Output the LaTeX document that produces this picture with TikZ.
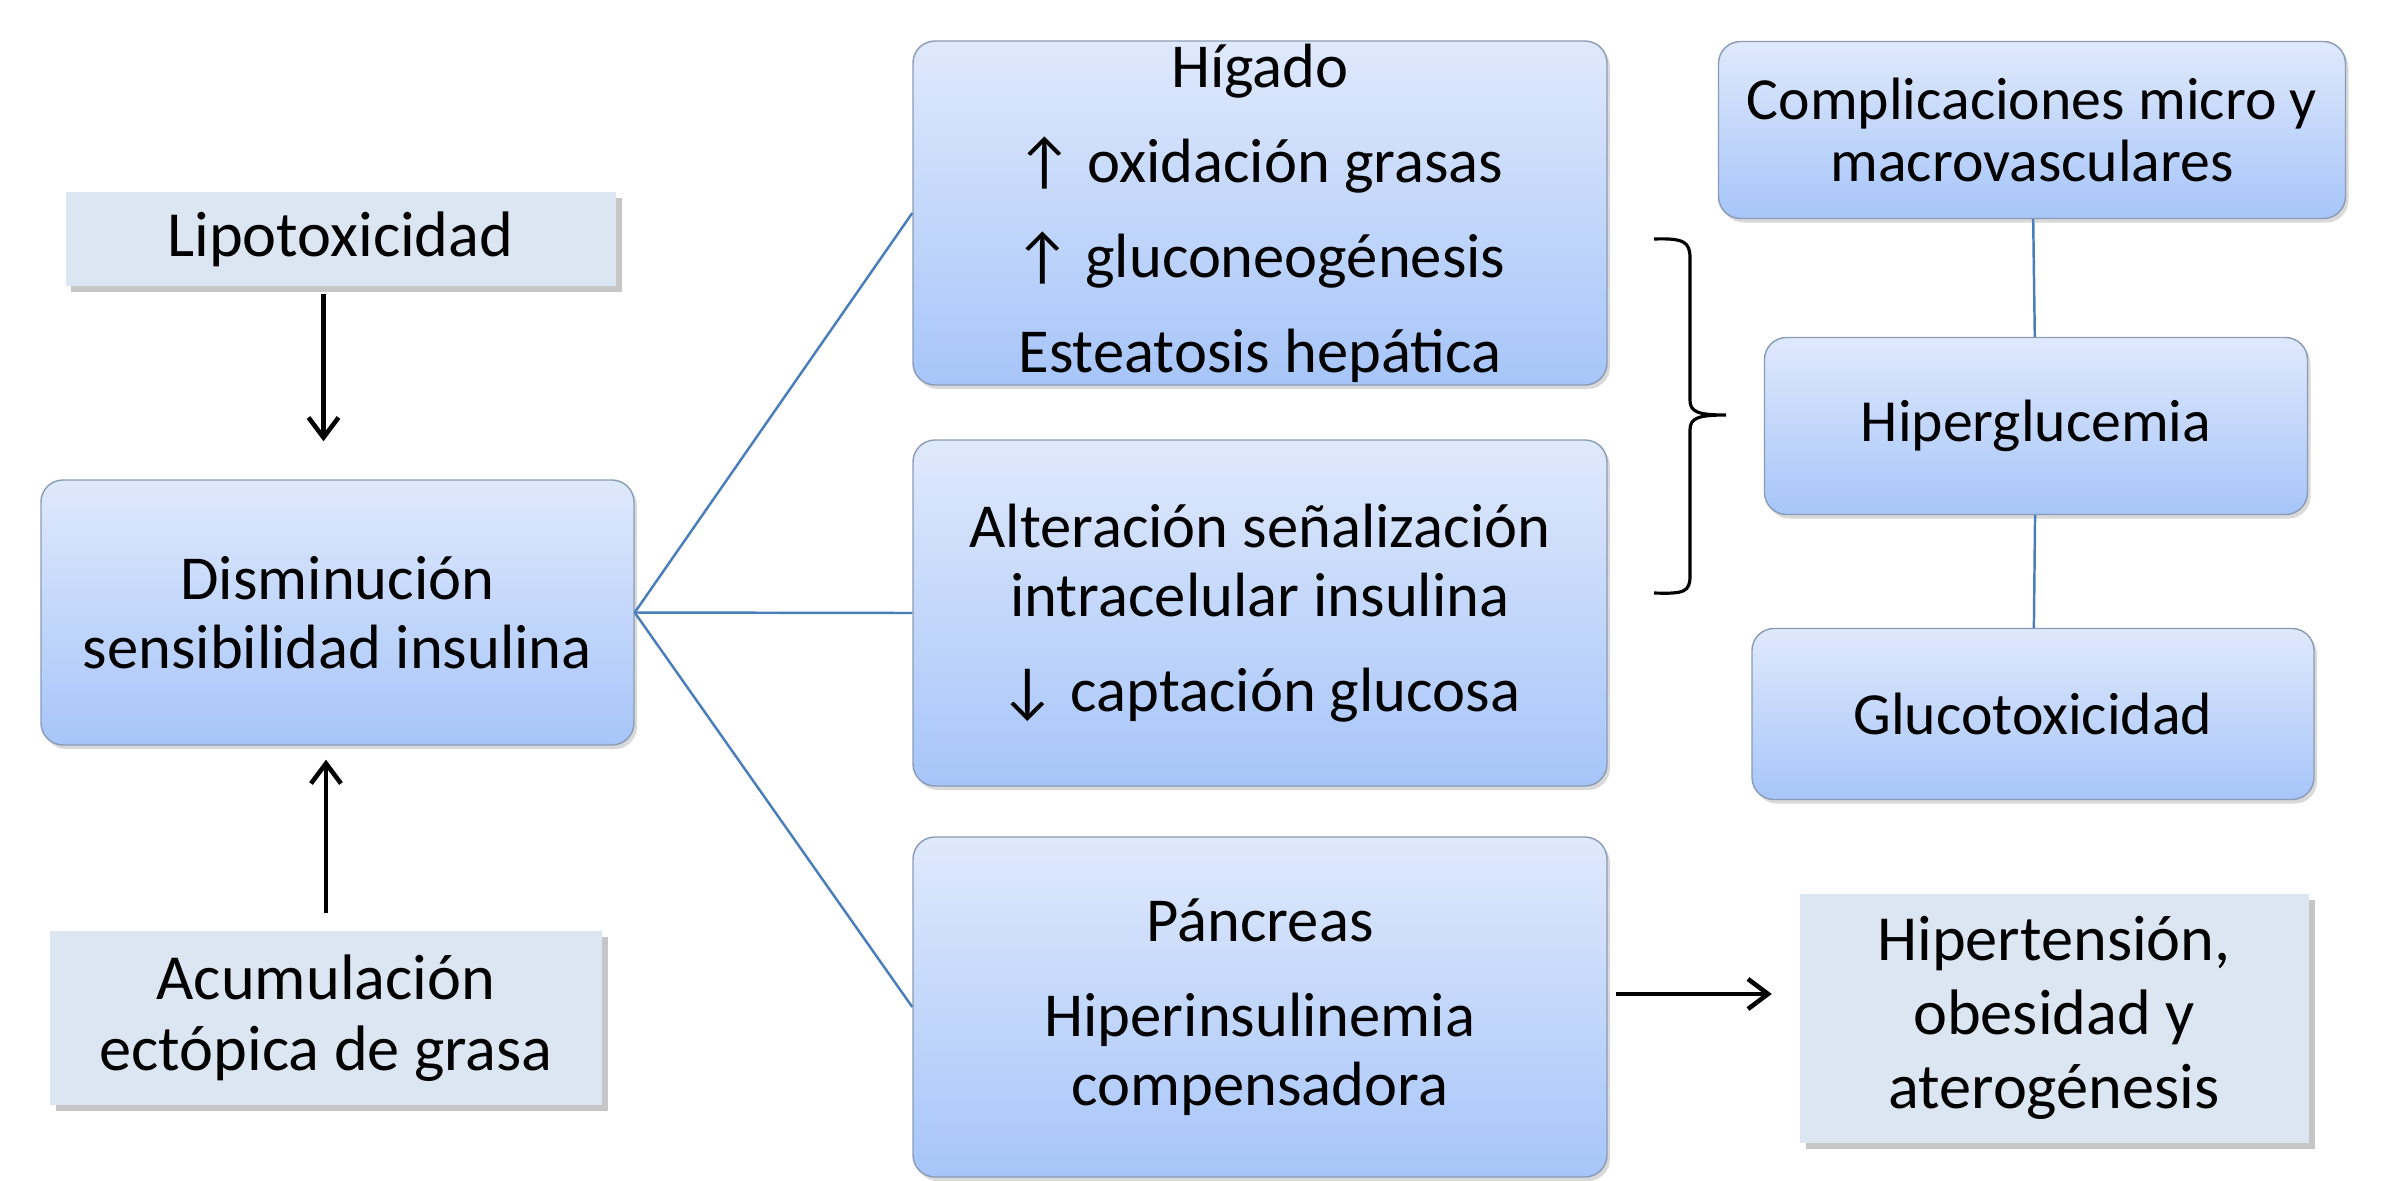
\documentclass[tikz,border=0pt]{standalone}
\usepackage{fontspec}
\setmainfont{Carlito}
\usepackage{tikz}
\usetikzlibrary{arrows.meta,shadows}

\definecolor{plainfill}{HTML}{DCE6F2}
\definecolor{gradtop}{HTML}{DFE9FC}
\definecolor{gradbottom}{HTML}{A7C5F9}
\definecolor{boxline}{HTML}{8A9BB5}
\definecolor{linkblue}{HTML}{4A7EBB}

\begin{document}
\begin{tikzpicture}[
  plain/.style={rectangle, fill=plainfill, inner sep=0pt, align=center, font=\fontsize{18.3}{21}\selectfont, drop shadow={shadow xshift=0.06cm, shadow yshift=-0.06cm, opacity=0.45, fill=gray}},
  card/.style={rectangle, rounded corners=0.22cm, draw=boxline, line width=0.4pt, top color=gradtop, bottom color=gradbottom, inner sep=0pt, align=center, font=\fontsize{17.8}{19.5}\selectfont, drop shadow={shadow xshift=0.03cm, shadow yshift=-0.04cm, opacity=0.3, fill=gray}},
  small/.style={font=\fontsize{17}{19.5}\selectfont},
  arrow/.style={-{Straight Barb[length=2mm,width=3mm]}, line width=1.3pt},
  link/.style={draw=linkblue, line width=0.7pt}
]
\useasboundingbox (0,0) rectangle (23.89,-11.80);

\node[plain, minimum width=5.5cm, minimum height=0.94cm] (lipo) at (3.405,-2.39) {Lipotoxicidad};
\node[card, minimum width=5.93cm, minimum height=2.65cm] (dism) at (3.375,-6.125) {Disminución\\ sensibilidad insulina};
\node[plain, minimum width=5.52cm, minimum height=1.74cm, font=\fontsize{18.3}{20.3}\selectfont] (acum) at (3.26,-10.18) {Acumulación\\ ectópica de grasa};

\node[card, minimum width=6.94cm, minimum height=3.44cm] (higado) at (12.60,-2.13) {Hígado\\[7.5pt] ↑ oxidación grasas\\[7.5pt] ↑ gluconeogénesis\\[7.5pt] Esteatosis hepática};
\node[card, minimum width=6.94cm, minimum height=3.46cm] (alter) at (12.60,-6.13) {Alteración señalización\\ intracelular insulina\\[7.5pt] ↓ captación glucosa};
\node[card, minimum width=6.94cm, minimum height=3.40cm] (panc) at (12.60,-10.07) {Páncreas\\[7.5pt] Hiperinsulinemia\\ compensadora};

\node[plain, minimum width=5.09cm, minimum height=2.49cm] (hipert) at (20.54,-10.18) {Hipertensión,\\ obesidad y\\ aterogénesis};
\node[card, small, minimum width=6.27cm, minimum height=1.77cm, font=\fontsize{17}{17.5}\selectfont] (compl) at (20.32,-1.30) {Complicaciones micro y\\ macrovasculares};
\node[card, small, minimum width=5.43cm, minimum height=1.77cm] (hiperg) at (20.36,-4.26) {Hiperglucemia};
\node[card, small, minimum width=5.62cm, minimum height=1.71cm] (gluco) at (20.33,-7.14) {Glucotoxicidad};

\draw[arrow, shorten <=0.07cm, shorten >=0.38cm] ([xshift=-0.17cm]lipo.south) -- ([xshift=-0.17cm]lipo.south |- dism.north);
\draw[arrow, shorten <=0.17cm, shorten >=0.14cm] (acum.north) -- (acum.north |- dism.south);
\draw[arrow, shorten <=0.08cm, shorten >=0.27cm] ([yshift=0.13cm]panc.east) -- ([yshift=0.13cm]panc.east -| hipert.west);

\draw[link] (dism.east) -- (higado.west);
\draw[link] (dism.east) -- (alter.west);
\draw[link] (dism.east) -- (panc.west);
\draw[link] (compl) -- (hiperg);
\draw[link] (hiperg) -- (gluco);

% brace towards Hiperglucemia
\coordinate (bracetop) at (16.54,-2.39);
\coordinate (bracetip) at (17.26,-4.15);
\coordinate (bracebottom) at (16.54,-5.93);
\draw[line width=0.9pt] (bracetop) .. controls (16.84,-2.38) and (16.90,-2.42) .. (16.90,-2.58)
  -- (16.90,-4.00) .. controls (16.90,-4.12) and (16.98,-4.15) .. (bracetip)
  .. controls (16.98,-4.15) and (16.90,-4.18) .. (16.90,-4.30)
  -- (16.90,-5.76) .. controls (16.90,-5.92) and (16.84,-5.94) .. (bracebottom);

\end{tikzpicture}
\end{document}
